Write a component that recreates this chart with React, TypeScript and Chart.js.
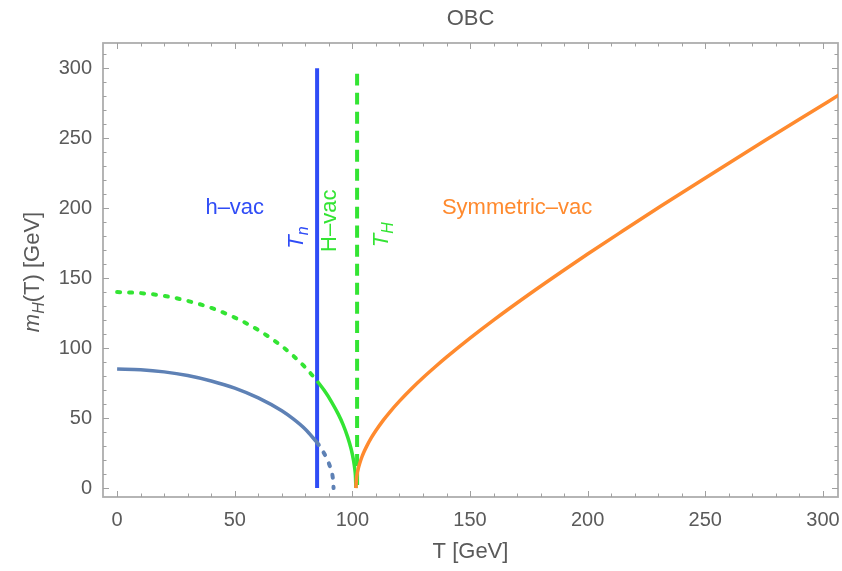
import React, { useEffect, useRef } from "react";
import { Chart, registerables } from "chart.js";

Chart.register(...registerables);

// h-vacuum branch (solid part, then the metastable dotted tail)
const hVacT = [0, 10, 20, 30, 40, 50, 60, 70, 75, 80, 85];
const hVacM = [85, 84.5, 83.0, 80.4, 76.5, 71.4, 64.4, 55.2, 49.2, 42.0, 32.5];
const hVacTailT = [85, 87, 89, 90, 91, 91.7, 92];
const hVacTailM = [32.5, 27.6, 21.5, 17.6, 12.5, 6.9, 0];

// H-vacuum branch (dotted below T_n, solid between T_n and T_H)
const HVacDotT = [0, 10, 20, 30, 40, 50, 60, 70, 75, 80, 85];
const HVacDotM = [140, 139.3, 137.3, 133.7, 128.7, 121.8, 112.9, 101.4, 94.3, 86.2, 76.5];
const HVacT = [85, 88, 91, 94, 96, 98, 99.5, 100.5, 101, 101.3, 101.5];
const HVacM = [76.5, 69.8, 62.0, 52.8, 45.5, 36.4, 27.7, 19.6, 13.9, 8.8, 0];

// symmetric vacuum
const symT = [101.5, 101.7, 102, 102.5, 103, 104, 105, 106, 108, 110, 113, 116, 120, 125, 130, 135, 140, 150, 160, 175, 190, 200, 215, 231, 250, 275, 290, 308];
const symM = [0, 6.2, 9.8, 13.9, 17.0, 22.0, 26.1, 29.6, 35.8, 41.1, 48.2, 54.5, 62.1, 70.8, 78.8, 86.3, 93.5, 107.1, 120.0, 138.3, 155.8, 167.2, 183.8, 201.3, 221.6, 247.9, 263.5, 282.1];

// transition temperatures
const Tn = 85;
const TnSpan = [0, 300];
const TH = 102;
const THSpan = [296, 0];

// axes
const xTicks = [0, 50, 100, 150, 200, 250, 300];
const yTicks = [0, 50, 100, 150, 200, 250, 300];
const xRange = [-6, 306.4];
const yRange = [-6.4, 318];
const minorStep = 10;

const FONT = '"Liberation Sans", Arial, Helvetica, sans-serif';
const BLUEGRAY = "#5E81B5";
const BLUE = "#2F4CF6";
const GREEN = "#33E433";
const ORANGE = "#FF8A2E";
const GRAY_TEXT = "#5a5a5a";

type Piece = { t: string; italic?: boolean; sub?: boolean };

// in-plot annotations, anchored in data coordinates
const notes: { at: [number, number]; pieces: Piece[]; color: string; rotate?: boolean }[] = [
  { at: [50, 200], pieces: [{ t: "h\u2013vac" }], color: BLUE },
  { at: [170, 200], pieces: [{ t: "Symmetric\u2013vac" }], color: ORANGE },
  { at: [76.5, 179], pieces: [{ t: "T", italic: true }, { t: "n", italic: true, sub: true }], color: BLUE, rotate: true },
  { at: [90.5, 191], pieces: [{ t: "H\u2013vac" }], color: GREEN, rotate: true },
  { at: [112.6, 181], pieces: [{ t: "T", italic: true }, { t: "H", italic: true, sub: true }], color: GREEN, rotate: true },
];

const pts = (xs: number[], ys: number[]) => xs.map((x, i) => ({ x, y: ys[i] }));

function drawPieces(ctx: CanvasRenderingContext2D, pieces: Piece[], size: number, cx: number, cy: number, rotate: boolean) {
  const fontFor = (p: Piece) => `${p.italic ? "italic " : ""}${p.sub ? Math.round(size * 0.72) : size}px ${FONT}`;
  let total = 0;
  const widths = pieces.map((p) => {
    ctx.font = fontFor(p);
    const w = ctx.measureText(p.t).width;
    total += w;
    return w;
  });
  ctx.save();
  ctx.translate(cx, cy);
  if (rotate) ctx.rotate(-Math.PI / 2);
  ctx.textBaseline = "middle";
  ctx.textAlign = "left";
  let x = -total / 2;
  pieces.forEach((p, i) => {
    ctx.font = fontFor(p);
    ctx.fillText(p.t, x, p.sub ? size * 0.28 : 0);
    x += widths[i];
  });
  ctx.restore();
}

const framePlugin = {
  id: "frameTicks",
  beforeDatasetsDraw(chart: any) {
    const { ctx, chartArea: a, scales } = chart;
    const xs = scales.x;
    const ys = scales.y;
    ctx.save();
    ctx.strokeStyle = "#adadad";
    ctx.lineWidth = 1.8;
    ctx.strokeRect(a.left, a.top, a.right - a.left, a.bottom - a.top);
    ctx.strokeStyle = "#a0a0a0";
    ctx.lineWidth = 1;
    ctx.beginPath();
    for (let v = 0; v <= xTicks[xTicks.length - 1]; v += minorStep) {
      const len = v % 50 === 0 ? 6 : 3.5;
      const px = Math.round(xs.getPixelForValue(v)) + 0.5;
      ctx.moveTo(px, a.bottom);
      ctx.lineTo(px, a.bottom - len);
      ctx.moveTo(px, a.top);
      ctx.lineTo(px, a.top + len);
    }
    for (let v = 0; v <= yTicks[yTicks.length - 1] + 10; v += minorStep) {
      const len = v % 50 === 0 ? 6 : 3.5;
      const py = Math.round(ys.getPixelForValue(v)) + 0.5;
      if (py < a.top) continue;
      ctx.moveTo(a.left, py);
      ctx.lineTo(a.left + len, py);
      ctx.moveTo(a.right, py);
      ctx.lineTo(a.right - len, py);
    }
    ctx.stroke();
    ctx.restore();
  },
  afterDraw(chart: any) {
    const { ctx, chartArea: a, scales } = chart;
    const xs = scales.x;
    const ys = scales.y;
    ctx.save();
    ctx.fillStyle = GRAY_TEXT;
    ctx.font = `20px ${FONT}`;
    ctx.textBaseline = "middle";
    ctx.textAlign = "center";
    xTicks.forEach((v) => ctx.fillText(String(v), xs.getPixelForValue(v), a.bottom + 23));
    ctx.textAlign = "right";
    yTicks.forEach((v) => ctx.fillText(String(v), a.left - 11, ys.getPixelForValue(v)));

    const midX = (a.left + a.right) / 2;
    drawPieces(ctx, [{ t: "OBC" }], 22, midX, 19, false);
    drawPieces(ctx, [{ t: "T [GeV]" }], 22, midX, 552, false);
    drawPieces(
      ctx,
      [{ t: "m", italic: true }, { t: "H", italic: true, sub: true }, { t: "(T) [GeV]" }],
      22,
      33,
      (a.top + a.bottom) / 2 + 2,
      true
    );

    notes.forEach((n) => {
      ctx.fillStyle = n.color;
      drawPieces(ctx, n.pieces, 22, xs.getPixelForValue(n.at[0]), ys.getPixelForValue(n.at[1]), !!n.rotate);
    });
    ctx.restore();
  },
};

export default function App() {
  const ref = useRef<HTMLCanvasElement | null>(null);

  useEffect(() => {
    if (!ref.current) return;
    const line = (data: { x: number; y: number }[], color: string, width: number, dash: number[] = [], extra: any = {}) => ({
      data,
      borderColor: color,
      backgroundColor: color,
      borderWidth: width,
      borderDash: dash,
      showLine: true,
      pointRadius: 0,
      fill: false,
      cubicInterpolationMode: "monotone",
      ...extra,
    });

    const chart = new Chart(ref.current, {
      type: "scatter",
      data: {
        datasets: [
          line(pts(symT, symM), ORANGE, 3.5),
          line(pts(HVacT, HVacM), GREEN, 3.5),
          line(pts(HVacDotT, HVacDotM), GREEN, 4, [3, 9], { borderCapStyle: "round" }),
          line(pts(hVacT, hVacM), BLUEGRAY, 3.5),
          line(pts(hVacTailT, hVacTailM), BLUEGRAY, 4, [3, 9], { borderCapStyle: "round" }),
          line(pts([TH, TH], THSpan), GREEN, 4, [12, 7]),
          line(pts([Tn, Tn], TnSpan), BLUE, 4),
        ] as any,
      },
      options: {
        responsive: false,
        animation: false,
        layout: { padding: { left: 103, top: 43, right: 4, bottom: 74 } },
        plugins: { legend: { display: false }, tooltip: { enabled: false }, title: { display: false } },
        scales: {
          x: { type: "linear", min: xRange[0], max: xRange[1], display: false },
          y: { type: "linear", min: yRange[0], max: yRange[1], display: false },
        },
      },
      plugins: [framePlugin],
    });
    return () => chart.destroy();
  }, []);

  return (
    <div style={{ position: "absolute", left: 0, top: 0, width: 842, height: 571, background: "#fff" }}>
      <canvas ref={ref} width={842} height={571} style={{ display: "block" }} />
    </div>
  );
}
